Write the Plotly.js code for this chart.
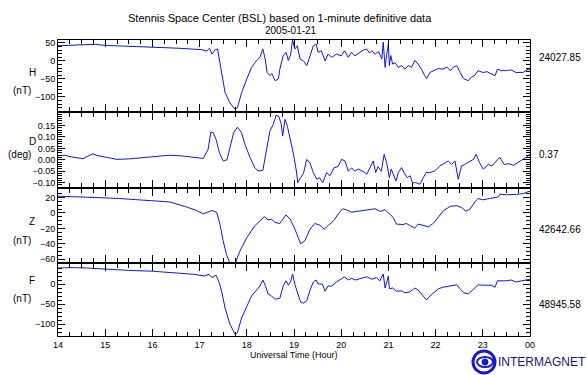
<!DOCTYPE html>
<html><head><meta charset="utf-8">
<script src="https://cdn.plot.ly/plotly-3.0.1.min.js"></script>
<style>html,body{margin:0;padding:0;background:#fff}#chart{width:587px;height:375px}</style>
</head><body><div id="chart"></div>
<script>
// ---- data ----
const hTime = [14.0,14.3,14.6,14.8,15.0,15.3,15.6,15.9,16.2,16.58,16.9,17.05,17.15,17.21,17.26,17.33,17.38,17.42,17.47,17.54,17.64,17.75,17.80,17.89,18.0,18.1,18.2,18.28,18.34,18.39,18.43,18.49,18.53,18.60,18.67,18.70,18.77,18.83,18.88,18.93,18.97,19.02,19.07,19.13,19.20,19.27,19.34,19.41,19.47,19.51,19.58,19.66,19.72,19.80,19.90,20.0,20.07,20.15,20.22,20.29,20.40,20.47,20.54,20.60,20.65,20.72,20.79,20.86,20.89,20.93,20.96,21.0,21.02,21.05,21.09,21.14,21.21,21.28,21.35,21.42,21.49,21.56,21.63,21.70,21.77,21.81,21.88,21.95,22.06,22.16,22.24,22.31,22.38,22.45,22.48,22.52,22.59,22.69,22.76,22.83,22.90,23.0,23.09,23.18,23.26,23.31,23.39,23.5,23.6,23.7,23.85,23.96,24.0];
const hVal  = [42,44,45,46,43,41,39,38,37,35,33,31,27,35,19,31,33,5,-32,-88,-116,-134,-130,-88,-50,-18,0,10,33,5,-32,-41,-35,-55,-50,-23,14,24,1,19,58,33,42,5,0,-13,14,42,47,24,28,0,19,10,19,14,28,10,24,14,24,30,33,22,28,19,26,5,52,-18,14,47,-13,15,-9,-5,-18,-13,-23,-13,-18,1,-9,-23,-41,-49,-32,-27,-21,-23,-17,-27,-17,-13,-23,-32,-49,-55,-45,-40,-27,-32,-30,-36,-41,-23,-27,-27,-25,-32,-32,-23,-25];

const dTime = [14.0,14.15,14.3,14.45,14.53,14.65,14.74,14.85,15.0,15.25,15.5,15.8,16.1,16.35,16.58,16.87,17.0,17.08,17.18,17.24,17.29,17.35,17.42,17.50,17.58,17.64,17.72,17.80,17.89,17.96,18.07,18.17,18.24,18.34,18.42,18.49,18.56,18.62,18.68,18.73,18.76,18.81,18.86,18.92,18.99,19.05,19.08,19.14,19.20,19.27,19.34,19.41,19.48,19.54,19.61,19.69,19.76,19.85,19.93,20.01,20.08,20.15,20.22,20.29,20.36,20.44,20.50,20.54,20.60,20.68,20.73,20.78,20.85,20.91,20.96,21.02,21.06,21.10,21.16,21.21,21.28,21.33,21.40,21.46,21.51,21.58,21.67,21.74,21.80,21.88,21.98,22.09,22.20,22.27,22.34,22.41,22.48,22.55,22.62,22.69,22.80,22.86,22.93,23.01,23.12,23.19,23.30,23.36,23.45,23.55,23.65,23.75,23.85,23.92,24.0];
const dVal  = [0.018,0.02,0.012,0.008,0.005,0.018,0.026,0.018,0.012,0.002,0.004,0.01,0.016,0.02,0.018,0.012,0.008,0.006,0.046,0.122,0.118,0.089,0.031,-0.005,0.0,0.053,0.118,0.143,0.118,0.068,0.009,-0.034,-0.049,-0.046,0.038,0.126,0.155,0.195,0.19,0.155,0.104,0.177,0.147,0.096,0.024,-0.049,-0.10,-0.078,-0.06,0.002,-0.015,-0.056,-0.085,-0.078,-0.10,-0.056,-0.07,-0.034,-0.03,0.002,-0.005,-0.05,-0.035,-0.05,-0.04,-0.049,-0.055,-0.064,-0.04,-0.005,-0.056,-0.03,-0.05,0.024,-0.01,-0.078,-0.04,-0.062,-0.093,-0.056,-0.034,-0.056,-0.078,-0.07,-0.10,-0.10,-0.107,-0.078,-0.056,-0.056,-0.049,-0.027,-0.012,-0.005,-0.02,-0.005,-0.085,-0.027,-0.02,-0.012,0.002,0.024,-0.012,-0.041,-0.02,-0.027,-0.005,0.011,-0.02,-0.017,-0.024,-0.012,0.002,0.011,0.026];

const zTime = [14.0,14.5,15.0,15.3,15.7,16.0,16.37,16.73,16.9,17.08,17.26,17.36,17.43,17.50,17.57,17.63,17.70,17.77,17.85,18.0,18.17,18.37,18.45,18.52,18.60,18.70,18.83,18.92,19.02,19.14,19.23,19.34,19.44,19.55,19.64,19.73,19.84,19.94,20.03,20.11,20.22,20.33,20.47,20.60,20.72,20.83,20.93,21.0,21.10,21.17,21.31,21.38,21.50,21.56,21.63,21.74,21.85,21.96,22.06,22.17,22.31,22.45,22.55,22.64,22.73,22.83,22.90,23.0,23.14,23.33,23.36,23.5,23.71,23.85,24.0];
const zVal  = [21.7,21,19.5,18.7,17,16,14.2,7.6,4,-1.2,3.2,1,-14.4,-36.5,-54,-63,-70,-63,-49.8,-32,-16.7,-4.8,-9,-8,-12.3,-13.6,-2.5,-8,-21,-40,-36,-21,-13.6,-16,-21,-16,-10,-1.2,5.4,4,1,2,3,4,5.4,2,4.3,0,-5.7,-14.4,-15,-13.6,-17,-19.7,-14.4,-16,-18,-13,-4.8,3.2,8.5,9.5,7,2.3,5,14.2,18.6,17,18.6,20.8,24.3,23.5,24,25,28.3];

const fTime = [14.0,14.3,14.6,15.0,15.5,16.0,16.5,16.9,17.1,17.2,17.26,17.35,17.42,17.47,17.54,17.64,17.75,17.80,17.89,18.0,18.1,18.28,18.34,18.39,18.45,18.5,18.6,18.7,18.77,18.83,18.88,18.93,18.97,19.02,19.1,19.14,19.2,19.27,19.34,19.41,19.47,19.51,19.6,19.66,19.72,19.8,19.9,20.0,20.07,20.15,20.22,20.3,20.4,20.54,20.65,20.75,20.82,20.89,20.93,20.96,21.0,21.02,21.09,21.17,21.28,21.35,21.45,21.56,21.63,21.7,21.77,21.81,21.88,21.95,22.06,22.16,22.31,22.45,22.52,22.6,22.69,22.76,22.9,23.0,23.18,23.26,23.31,23.5,23.6,23.7,23.85,24.0];
const fVal  = [40,41,40,37,34,32,28,24,20,24,16,22,2,-20,-60,-100,-125,-122,-85,-55,-30,-5,10,-3,-25,-28,-38,-36,-5,8,-3,7,25,-2,-30,-45,-48,-42,-15,5,10,0,0,-18,-5,-5,5,12,18,10,14,10,14,18,12,16,8,25,-10,5,20,-12,-10,-18,-17,-22,-20,-10,-15,-25,-35,-40,-30,-22,-12,-8,-4,-2,-12,-22,-25,-18,-2,-3,-3,-8,8,8,10,5,8,12];

const xTickVals = [14,15,16,17,18,19,20,21,22,23,24];
const xTickText = ['14','15','16','17','18','19','20','21','22','23','00'];
const panelNames = ['H','D','Z','F'];
const panelUnits = ['(nT)','(deg)','(nT)','(nT)'];
const baselines = ['24027.85','0.37','42642.66','48945.58'];
const titleText = 'Stennis Space Center (BSL) based on 1-minute definitive data';
const dateText = '2005-01-21';
const xTitleText = 'Universal Time (Hour)';

// ---- geometry helpers (pixels -> paper) ----
const W = 587, H = 375, L = 58, R = 57, T = 40, B = 39;
const pw = W - L - R, ph = H - T - B;
const px = x => (x - L) / pw;
const py = y => (H - B - y) / ph;

const FONT = 'Liberation Sans, Arial, Helvetica, sans-serif';
const lineStyle = {color: 'rgb(20,20,225)', width: 1};

const traces = [
  {x: hTime, y: hVal, xaxis: 'x4', yaxis: 'y4'},
  {x: dTime, y: dVal, xaxis: 'x3', yaxis: 'y3'},
  {x: zTime, y: zVal, xaxis: 'x2', yaxis: 'y2'},
  {x: fTime, y: fVal, xaxis: 'x', yaxis: 'y'}
].map(t => Object.assign(t, {type: 'scatter', mode: 'lines', line: lineStyle, hoverinfo: 'skip'}));

function xAxis(anchor, showLabels) {
  return {
    anchor: anchor, domain: [0, 1], range: [14, 24], matches: anchor === 'y' ? undefined : 'x',
    tickmode: 'array', tickvals: xTickVals, ticktext: xTickText,
    showticklabels: showLabels, ticks: 'inside', ticklen: 7, tickwidth: 1, tickcolor: '#000',
    minor: {tickmode: 'linear', tick0: 14, dtick: 0.25, ticks: 'inside', ticklen: 4, tickcolor: '#000', showgrid: false},
    showline: true, linecolor: '#000', linewidth: 1, mirror: 'allticks',
    showgrid: false, zeroline: false, tickfont: {family: FONT, size: 9, color: '#000'}
  };
}
function yAxis(anchor, domain, range, tickvals, minorD, fmt) {
  return {
    anchor: anchor, domain: domain, range: range,
    tickmode: 'array', tickvals: tickvals, ticktext: tickvals.map(v => fmt(v)),
    ticks: 'inside', ticklen: 7, tickwidth: 1, tickcolor: '#000',
    minor: {tickmode: 'linear', tick0: 0, dtick: minorD, ticks: 'inside', ticklen: 4, tickcolor: '#000', showgrid: false},
    showline: true, linecolor: '#000', linewidth: 1, mirror: 'allticks',
    showgrid: false, zeroline: false, tickfont: {family: FONT, size: 9, color: '#000'}
  };
}
const intFmt = v => String(v).replace('-', '\u2212');
const decFmt = v => v.toFixed(2).replace('-', '\u2212');

const layout = {
  width: W, height: H, showlegend: false,
  margin: {l: L, r: R, t: T, b: B, pad: 0},
  paper_bgcolor: '#fff', plot_bgcolor: '#fff',
  xaxis: xAxis('y', true),
  xaxis2: xAxis('y2', false),
  xaxis3: xAxis('y3', false),
  xaxis4: xAxis('y4', false),
  yaxis:  yAxis('x',  [0, py(264)], [-130, 50], [-100, -50, 0], 10, intFmt),
  yaxis2: yAxis('x2', [py(262), py(189)], [-63.5, 31], [-60, -40, -20, 0, 20], 5, intFmt),
  yaxis3: yAxis('x3', [py(187), py(113)], [-0.119, 0.205], [-0.10, -0.05, 0.00, 0.05, 0.10, 0.15], 0.01, decFmt),
  yaxis4: yAxis('x4', [py(111), 1], [-139, 58], [-100, -50, 0, 50], 10, intFmt),
  annotations: [],
  shapes: []
};

const ann = (text, x, y, size, xanchor, color) => ({
  text: text, x: x, y: y, xref: 'paper', yref: 'paper', showarrow: false,
  xanchor: xanchor || 'center', yanchor: 'middle',
  font: {family: FONT, size: size, color: color || '#000'}
});

layout.annotations.push(ann(titleText, px(280), py(18), 11));
layout.annotations.push(ann(dateText, px(291), py(31), 10));
layout.annotations.push(ann(xTitleText, px(294), py(355), 9));

const nameY = [72, 141, 221, 280];
const unitY = [90, 154, 240, 298];
const baseY = [57, 154, 229, 304];
for (let i = 0; i < 4; i++) {
  layout.annotations.push(ann(panelNames[i], px(32), py(nameY[i]), 10));
  layout.annotations.push(ann(panelUnits[i], px(i === 1 ? 19 : 22), py(unitY[i]), 10));
  layout.annotations.push(ann(baselines[i], px(537), py(baseY[i]), 10, 'left'));
}

// INTERMAGNET logo
layout.annotations.push(ann('INTERMAGNET', px(496), py(362), 12, 'left', '#16167a'));
layout.shapes.push({type: 'circle', xref: 'paper', yref: 'paper', x0: px(473), x1: px(495), y0: py(373), y1: py(351), line: {color: '#1818d0', width: 3}});
layout.shapes.push({type: 'circle', xref: 'paper', yref: 'paper', x0: px(477), x1: px(493), y0: py(367), y1: py(357), line: {color: '#1818d0', width: 2}});
layout.shapes.push({type: 'circle', xref: 'paper', yref: 'paper', x0: px(482), x1: px(488), y0: py(365), y1: py(359), fillcolor: '#1818d0', line: {color: '#1818d0', width: 1}});

Plotly.newPlot('chart', traces, layout, {staticPlot: true, displayModeBar: false});
</script>
</body></html>
